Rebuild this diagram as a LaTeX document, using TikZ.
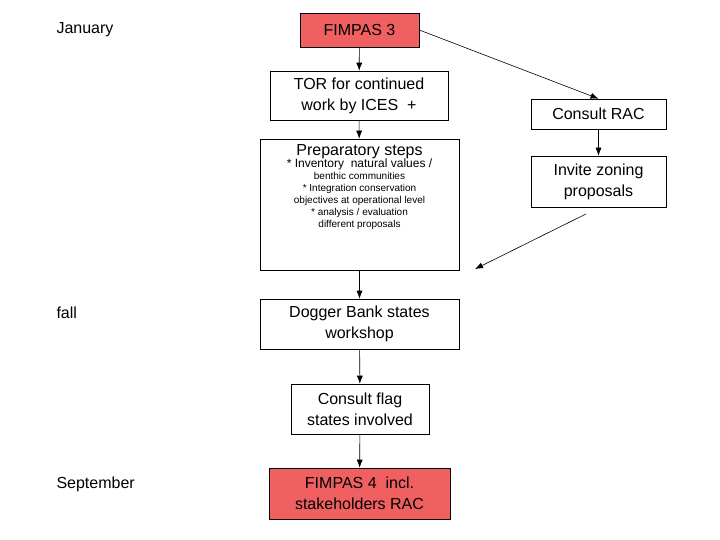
\documentclass[tikz,border=0pt]{standalone}
\usepackage{fontspec}
\usetikzlibrary{arrows.meta}
\setmainfont{Liberation Sans}
\begin{document}
\begin{tikzpicture}[x=1pt,y=-1pt,
  box/.style={draw,semithick,minimum width=#1,inner sep=2pt,align=center,font=\fontsize{16}{21}\selectfont},
  red/.style={fill={rgb,255:red,240;green,96;blue,96}},
  arr/.style={-{Latex[length=8pt,width=6pt]},semithick},
  lab/.style={font=\fontsize{16}{19}\selectfont}]
\useasboundingbox (0,0) rectangle (720,540);
\node[box=119pt,red,minimum height=34pt] (f3) at (359.5,30) {FIMPAS 3};
\node[box=178pt,minimum height=49pt] (tor) at (359,95.5) {TOR for continued\\work by ICES\ \ +};
\node[draw,semithick,minimum width=199pt,minimum height=131pt] (prep) at (359.5,204.5) {};
\node[align=center,anchor=north,inner sep=0pt] (preptxt) at (359.5,144) {{\fontsize{16}{19}\selectfont Preparatory steps}\\[-1pt]
\fontsize{12}{17}\selectfont * Inventory\ \ natural values /\\benthic communities\\* Integration conservation\\objectives at operational level\\* analysis / evaluation\\different proposals};
\node[box=199pt,minimum height=50pt] (dog) at (359.5,324) {Dogger Bank states\\workshop};
\node[box=138pt,minimum height=50pt] (flag) at (360,409) {Consult flag\\states involved};
\node[box=181pt,red,minimum height=51pt] (f4) at (359.5,493.5) {FIMPAS 4\ \ incl.\\stakeholders RAC};
\node[box=135pt,minimum height=30pt] (rac) at (598.5,114) {Consult RAC};
\node[box=135pt,minimum height=51pt] (inv) at (598.5,181.5) {Invite zoning\\proposals};
\node[lab,anchor=west] (jan) at (53,30) {January};
\node[lab,anchor=west] (fall) at (53,313) {fall};
\node[lab,anchor=west] (sep) at (53,484) {September};
\coordinate (c1) at (586,214);
\coordinate (c2) at (475,269);
\draw[arr] (f3) -- (tor);
\draw[arr] (tor) -- (prep);
\draw[arr] (prep) -- (dog);
\draw[arr] (dog) -- (flag);
\draw[arr] (flag) -- (f4);
\draw[arr] (f3.east) -- (rac.north);
\draw[arr] (rac) -- (inv);
\draw[arr] (c1) -- (c2);
\end{tikzpicture}
\end{document}
